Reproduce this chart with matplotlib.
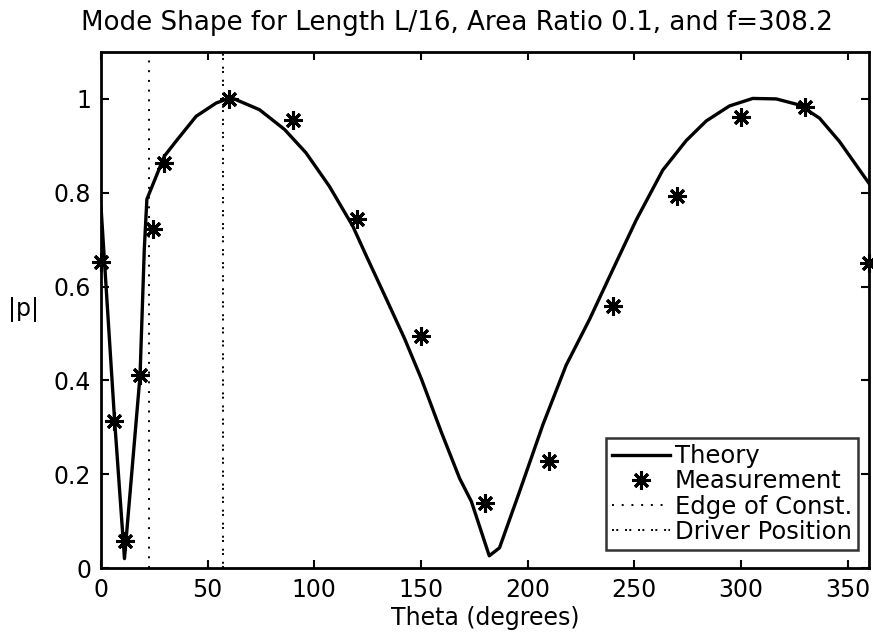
import numpy as np
import matplotlib
matplotlib.use("Agg")
import matplotlib.pyplot as plt
from matplotlib.ticker import FuncFormatter

# theory curve
theta_theory = [0, 6.3, 11, 18.3, 20.3, 21.5, 29.7, 35.2, 44.6, 53.9, 60.9, 74.3, 86,
                96.1, 107, 118, 124.3, 133.7, 142.3, 150.1, 159.5, 168.1, 173.6,
                182, 186.8, 196.2, 207.1, 218, 229, 239.9, 250.9, 263.3, 274.3,
                283.7, 294.6, 305.5, 316.5, 327.4, 336.8, 346.2, 360]
p_theory = [0.77, 0.32, 0.02, 0.41, 0.68, 0.786, 0.878, 0.91, 0.963, 0.991, 1.003,
            0.977, 0.935, 0.885, 0.814, 0.729, 0.666, 0.574, 0.489, 0.404, 0.29,
            0.191, 0.142, 0.026, 0.043, 0.163, 0.305, 0.432, 0.53, 0.636, 0.742,
            0.848, 0.911, 0.953, 0.985, 1.001, 1.0, 0.987, 0.959, 0.909, 0.82]

# measured points
theta_meas = [0, 6.3, 11.4, 18.3, 24.3, 29.7, 60, 90, 120, 150, 180, 210, 240,
              270, 300, 330, 360]
p_meas = [0.652, 0.313, 0.057, 0.412, 0.722, 0.864, 1.0, 0.954, 0.743, 0.494,
          0.139, 0.228, 0.558, 0.792, 0.961, 0.983, 0.650]

edge_const = 22.5
driver_pos = 57

FS = 16

fig = plt.figure(figsize=(8.73, 6.32), dpi=100)
ax = fig.add_axes([101 / 873, 1 - 568 / 632, 768 / 873, 516 / 632])

ax.plot(theta_theory, p_theory, color="black", lw=2.4, label="Theory")
ax.plot(theta_meas, p_meas, linestyle="none", marker=(8, 2, 0), ms=13, mew=2.2,
        color="black", clip_on=False, zorder=5, label="Measurement")
ax.plot([edge_const, edge_const], [0, 1.1], color="black", lw=1.4,
        linestyle=(0, (1, 4)), label="Edge of Const.")
ax.plot([driver_pos, driver_pos], [0, 1.1], color="black", lw=1.4,
        linestyle=(0, (1, 1.2, 1, 3.5)), label="Driver Position")

ax.set_xlim(0, 360)
ax.set_ylim(0, 1.1)
ax.set_xticks(np.arange(0, 351, 50))
ax.set_yticks([0, 0.2, 0.4, 0.6, 0.8, 1.0])
ax.yaxis.set_major_formatter(FuncFormatter(lambda v, p: "%g" % v))
ax.tick_params(direction="in", length=6, width=1.5, top=True, right=True,
               labelsize=FS + 1, pad=7)
for s in ax.spines.values():
    s.set_linewidth(2)

ax.set_title("Mode Shape for Length L/16, Area Ratio 0.1, and f=308.2",
             fontsize=18.8, pad=16, x=0.463)
ax.set_xlabel("Theta (degrees)", fontsize=FS + 1, labelpad=3)
ax.set_ylabel("|p|", fontsize=FS + 1, rotation=0, labelpad=22, va="center")

leg = ax.legend(loc="lower right", bbox_to_anchor=(0.986, 0.035), fontsize=17.5,
                frameon=True, fancybox=False, edgecolor="black",
                borderpad=0.25, labelspacing=0.05, handlelength=2.4,
                handletextpad=0.2, borderaxespad=0)
leg.get_frame().set_linewidth(1.8)

fig.savefig("out.png", dpi=100)
